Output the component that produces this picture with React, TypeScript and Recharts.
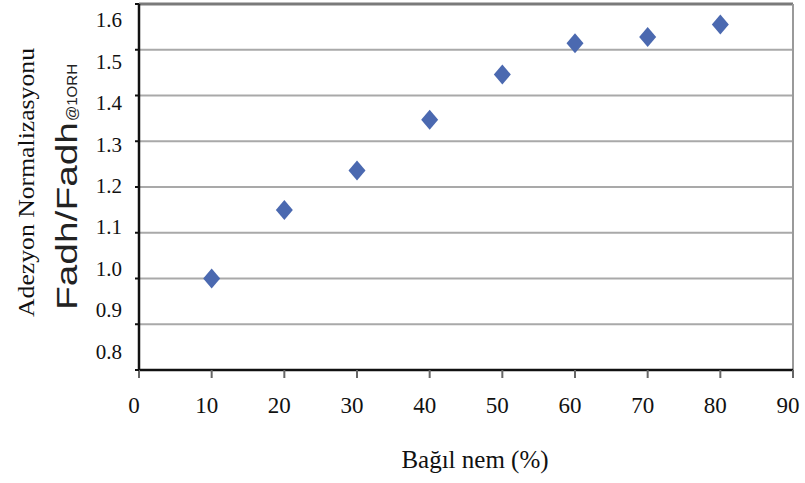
import { ScatterChart, Scatter, XAxis, YAxis, CartesianGrid, ReferenceLine, Label } from "recharts";

const humidity = [10, 20, 30, 40, 50, 60, 70, 80];
const adhesion = [1.0, 1.15, 1.236, 1.347, 1.446, 1.514, 1.528, 1.555];
const xTicks = [0, 10, 20, 30, 40, 50, 60, 70, 80, 90];
const yTicks = [0.8, 0.9, 1.0, 1.1, 1.2, 1.3, 1.4, 1.5, 1.6];

const data = humidity.map((h, i) => ({ h, v: adhesion[i] }));

const serif = "'Liberation Serif', 'Times New Roman', serif";
const sans = "'Liberation Sans', Arial, sans-serif";

const Diamond = (props: any) => {
  const { cx, cy } = props;
  if (cx == null || cy == null) return null;
  const w = 8.5;
  const h = 10;
  return (
    <polygon
      points={`${cx},${cy - h} ${cx + w},${cy} ${cx},${cy + h} ${cx - w},${cy}`}
      fill="#4B69B0"
    />
  );
};

// the original labels sit a little off their gridlines, drifting from top to bottom
const YTick = (props: any) => {
  const { x, y, payload, index } = props;
  const dy = -18.8 + 4.35 * index;
  return (
    <text x={x} y={y + dy} dy="0.35em" textAnchor="end" fontFamily={serif} fontSize={21} fill="#111">
      {Number(payload.value).toFixed(1)}
    </text>
  );
};

const XTick = (props: any) => {
  const { x, y, payload } = props;
  return (
    <text x={x - 5} y={y} dy="0.71em" textAnchor="middle" fontFamily={serif} fontSize={23} fill="#111">
      {payload.value}
    </text>
  );
};

const YTitle = () => (
  <g>
    <text
      transform="translate(34, 182.5) rotate(-90)"
      textAnchor="middle"
      fontFamily={serif}
      fontSize={24}
      fill="#111"
      textLength={269}
      lengthAdjust="spacingAndGlyphs"
    >
      Adezyon Normalizasyonu
    </text>
    <text
      transform="translate(77, 310) rotate(-90)"
      textAnchor="start"
      fontFamily={sans}
      fontSize={29}
      fill="#222"
      textLength={188}
      lengthAdjust="spacingAndGlyphs"
    >
      Fadh/Fadh
    </text>
    <text
      transform="translate(77, 121) rotate(-90)"
      textAnchor="start"
      fontFamily={sans}
      fontSize={14}
      fill="#222"
      textLength={57}
      lengthAdjust="spacingAndGlyphs"
    >
      @1ORH
    </text>
  </g>
);

const XTitle = (props: any) => {
  const { viewBox } = props;
  const cx = viewBox.x + viewBox.width / 2 + 9;
  return (
    <text x={cx} y={468} textAnchor="middle" fontFamily={serif} fontSize={25} fill="#111">
      Bağıl nem (%)
    </text>
  );
};

export default function App() {
  return (
    <div style={{ position: "absolute", left: 0, top: 0, width: 805, height: 483, background: "#fff" }}>
      <ScatterChart width={805} height={483} margin={{ top: 4, right: 12, left: 0, bottom: 0 }}>
        <CartesianGrid horizontal vertical={false} stroke="#a9a9a9" strokeWidth={2} />
        <XAxis
          type="number"
          dataKey="h"
          domain={[0, 90]}
          ticks={xTicks}
          height={113}
          axisLine={{ stroke: "#111", strokeWidth: 2.5 }}
          tickLine={{ stroke: "#666", strokeWidth: 2 }}
          tickSize={8}
          tickMargin={19}
          tick={<XTick />}
          interval={0}
        >
          <Label content={<XTitle />} />
        </XAxis>
        <YAxis
          type="number"
          dataKey="v"
          domain={[0.8, 1.6]}
          ticks={yTicks}
          width={139}
          axisLine={{ stroke: "#111", strokeWidth: 2.5 }}
          tickLine={{ stroke: "#111", strokeWidth: 2 }}
          tickSize={4}
          tickMargin={13}
          tick={<YTick />}
          interval={0}
        >
          <Label content={<YTitle />} />
        </YAxis>
        <ReferenceLine y={1.6} stroke="#7a7a7a" strokeWidth={3} />
        <ReferenceLine x={90} stroke="#9a9a9a" strokeWidth={2} />
        <Scatter data={data} shape={<Diamond />} isAnimationActive={false} />
      </ScatterChart>
    </div>
  );
}
